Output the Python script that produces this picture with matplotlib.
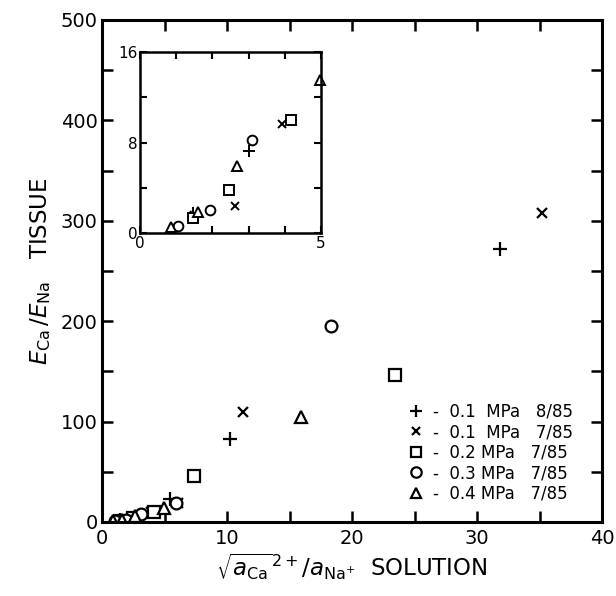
import matplotlib
matplotlib.use("Agg")
import matplotlib.pyplot as plt
from matplotlib.lines import Line2D

plt.rcParams['font.family'] = ['DejaVu Sans']
plt.rcParams['mathtext.fontset'] = 'dejavusans'

# data: (x = sqrt(aCa)/aNa solution, y = ECa/ENa tissue)
plus_x = [1.45, 3.01, 5.4, 10.2, 31.8]
plus_y = [1.8, 7.25, 23, 83, 272]
cross_x = [1.5, 2.62, 3.91, 6.1, 11.25, 35.2]
cross_y = [1.6, 2.4, 9.6, 19, 110, 308]
square_x = [1.45, 2.47, 4.17, 7.36, 23.4]
square_y = [1.35, 3.8, 10.0, 46, 146]
circle_x = [1.06, 1.92, 3.09, 5.9, 18.3]
circle_y = [0.65, 2.0, 8.2, 19, 195.5]
tri_x = [0.86, 1.61, 2.67, 4.97, 15.9]
tri_y = [0.55, 1.9, 5.95, 13.5, 105]

labels = ["-  0.1  MPa   8/85",
          "-  0.1  MPa   7/85",
          "-  0.2 MPa   7/85",
          "-  0.3 MPa   7/85",
          "-  0.4 MPa   7/85"]

main_xticks = [0, 10, 20, 30, 40]
main_yticks = [0, 100, 200, 300, 400, 500]
inset_xticks = [0, 5]
inset_yticks = [0, 8, 16]

series = [
    (plus_x, plus_y, '+'),
    (cross_x, cross_y, 'x'),
    (square_x, square_y, 's'),
    (circle_x, circle_y, 'o'),
    (tri_x, tri_y, '^'),
]

fig = plt.figure(figsize=(6.16, 5.96), dpi=100)
ax = fig.add_axes([0.1656, 0.1242, 0.8117, 0.8423])

def style(m):
    if m in ('+', 'x'):
        return dict(marker=m, color='black', linestyle='none')
    return dict(marker=m, markerfacecolor='white', markeredgecolor='black', linestyle='none')

sizes = {'+': 9.5, 'x': 7, 's': 8.5, 'o': 8.5, '^': 8.5}

handles = []
for (xs, ys, m), lab in zip(series, labels):
    ax.plot(xs, ys, markersize=sizes[m], markeredgewidth=1.6, **style(m))
    handles.append(Line2D([], [], markersize=sizes[m] - 1, markeredgewidth=1.6, **style(m)))

ax.set_xlim(0, 40)
ax.set_ylim(0, 500)
ax.set_xticks(main_xticks)
ax.set_yticks(main_yticks)
ax.set_xticks([5, 15, 25, 35], minor=True)
ax.set_yticks([50, 150, 250, 350, 450], minor=True)
ax.tick_params(which='both', direction='in', top=True, right=True, width=1.8)
ax.tick_params(which='major', length=8, labelsize=14, pad=3)
ax.tick_params(which='minor', length=8)
ax.tick_params(axis='x', pad=5)
for s in ax.spines.values():
    s.set_linewidth(2.2)

ax.set_xlabel(r"$\sqrt{a_{\mathrm{Ca}}}{}^{2+}/a_{\mathrm{Na}^{+}}$  SOLUTION", fontsize=16.5, labelpad=3)
ax.set_ylabel(r"$E_{\mathrm{Ca}}\,/E_{\mathrm{Na}}$   TISSUE", fontsize=16.5, labelpad=6)

ax.legend(handles, labels, loc='lower right', bbox_to_anchor=(0.965, 0.015),
          frameon=False, fontsize=12, handlelength=0.8, handletextpad=0.6,
          labelspacing=0.15, borderpad=0.2)

# inset
ins = fig.add_axes([0.2273, 0.609, 0.2938, 0.3037])
isizes = {'+': 8, 'x': 6, 's': 7, 'o': 7, '^': 7}
for xs, ys, m in series:
    px = [x for x, y in zip(xs, ys) if x <= 5.05 and y <= 16]
    py = [y for x, y in zip(xs, ys) if x <= 5.05 and y <= 16]
    ins.plot(px, py, markersize=isizes[m], markeredgewidth=1.4, clip_on=False, **style(m))
ins.set_xlim(0, 5)
ins.set_ylim(0, 16)
ins.set_xticks(inset_xticks)
ins.set_yticks(inset_yticks)
ins.set_xticks([1, 2, 3, 4], minor=True)
ins.set_yticks([4, 12], minor=True)
ins.tick_params(which='both', direction='in', top=True, right=True, width=1.5, length=5)
ins.tick_params(which='major', labelsize=11, pad=2)
for s in ins.spines.values():
    s.set_linewidth(1.8)

fig.savefig("out.png", dpi=100)
